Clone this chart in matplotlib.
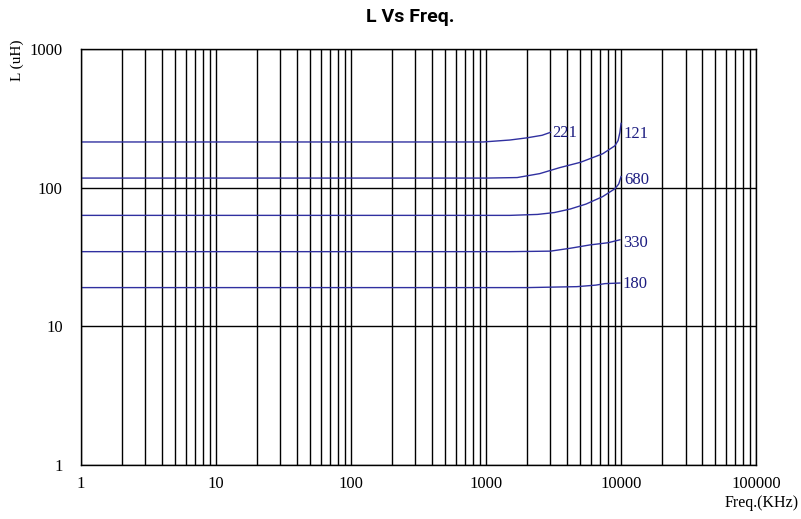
import matplotlib

matplotlib.use("Agg")
import matplotlib.pyplot as plt
from matplotlib.ticker import FixedLocator, NullFormatter

# Inductance vs frequency (freq in KHz, L in uH)
FREQ_221 = [1, 500, 950, 1500, 2000, 2600, 3000]
L_221 = [213, 213, 213, 220, 228, 238, 250]

FREQ_121 = [1, 1000, 1700, 2500, 3500, 5000, 7300, 9000, 9500, 9800, 10000]
L_121 = [117, 117, 118, 126, 139, 152, 175, 200, 218, 250, 290]

FREQ_680 = [1, 1500, 2400, 3200, 4200, 5500, 7300, 9000, 9600, 10000]
L_680 = [63, 63, 64, 66, 70, 76, 86, 98, 106, 120]

FREQ_330 = [1, 1500, 3000, 4200, 5900, 8000, 9800]
L_330 = [34.5, 34.5, 34.8, 36.5, 38.6, 40.0, 42.0]

FREQ_180 = [1, 2000, 4700, 6500, 7600, 9800]
L_180 = [19.0, 19.0, 19.3, 19.8, 20.3, 20.5]

CURVES = [
    ("221", FREQ_221, L_221, (3100, 248)),
    ("121", FREQ_121, L_121, (10500, 245)),
    ("680", FREQ_680, L_680, (10600, 113)),
    ("330", FREQ_330, L_330, (10300, 40)),
    ("180", FREQ_180, L_180, (10300, 20.2)),
]

X_TICKS = [1, 10, 100, 1000, 10000, 100000]
Y_TICKS = [1, 10, 100, 1000]

LINE_COLOR = "#3030a0"
TEXT_COLOR = "#1c1c80"
SERIF = ["Liberation Serif", "DejaVu Serif"]

fig = plt.figure(figsize=(8.01, 5.19), dpi=100)
ax = fig.add_axes([0.101, 0.104, 0.843, 0.802])

ax.set_xscale("log")
ax.set_yscale("log")
ax.set_xlim(1, 100000)
ax.set_ylim(1, 1000)

# vertical grid at every decade step, horizontal only at decades
minor_x = [m * 10 ** e for e in range(5) for m in range(2, 10)]
ax.xaxis.set_minor_locator(FixedLocator(minor_x))
ax.xaxis.set_minor_formatter(NullFormatter())
ax.yaxis.set_minor_locator(FixedLocator([]))
ax.set_xticks(X_TICKS)
ax.set_xticklabels([str(t) for t in X_TICKS])
ax.set_yticks(Y_TICKS)
ax.set_yticklabels([str(t) for t in Y_TICKS])
ax.grid(True, which="both", axis="x", color="black", linewidth=1.0)
ax.grid(True, which="major", axis="y", color="black", linewidth=1.0)
ax.tick_params(which="both", length=0, labelsize=12)
ax.tick_params(axis="x", pad=8)
ax.tick_params(axis="y", pad=13)
for lab in ax.get_xticklabels() + ax.get_yticklabels():
    lab.set_family(SERIF)
for spine in ax.spines.values():
    spine.set_linewidth(1.0)
    spine.set_color("black")

for name, f, L, pos in CURVES:
    ax.plot(f, L, color=LINE_COLOR, linewidth=1.0)
    ax.text(pos[0], pos[1], name, color=TEXT_COLOR, fontsize=12,
            family=SERIF, ha="left", va="center")

fig.text(0.512, 0.967, "L Vs Freq.", ha="center", va="center",
         fontsize=14, fontweight="bold", family=["Roboto", "DejaVu Sans"])
fig.text(0.022, 0.884, "L (uH)", rotation=90, ha="center", va="center",
         fontsize=11, family=SERIF)
fig.text(0.951, 0.031, "Freq.(KHz)", ha="center", va="center",
         fontsize=11.5, family=SERIF)

fig.savefig("out.png", dpi=100)
